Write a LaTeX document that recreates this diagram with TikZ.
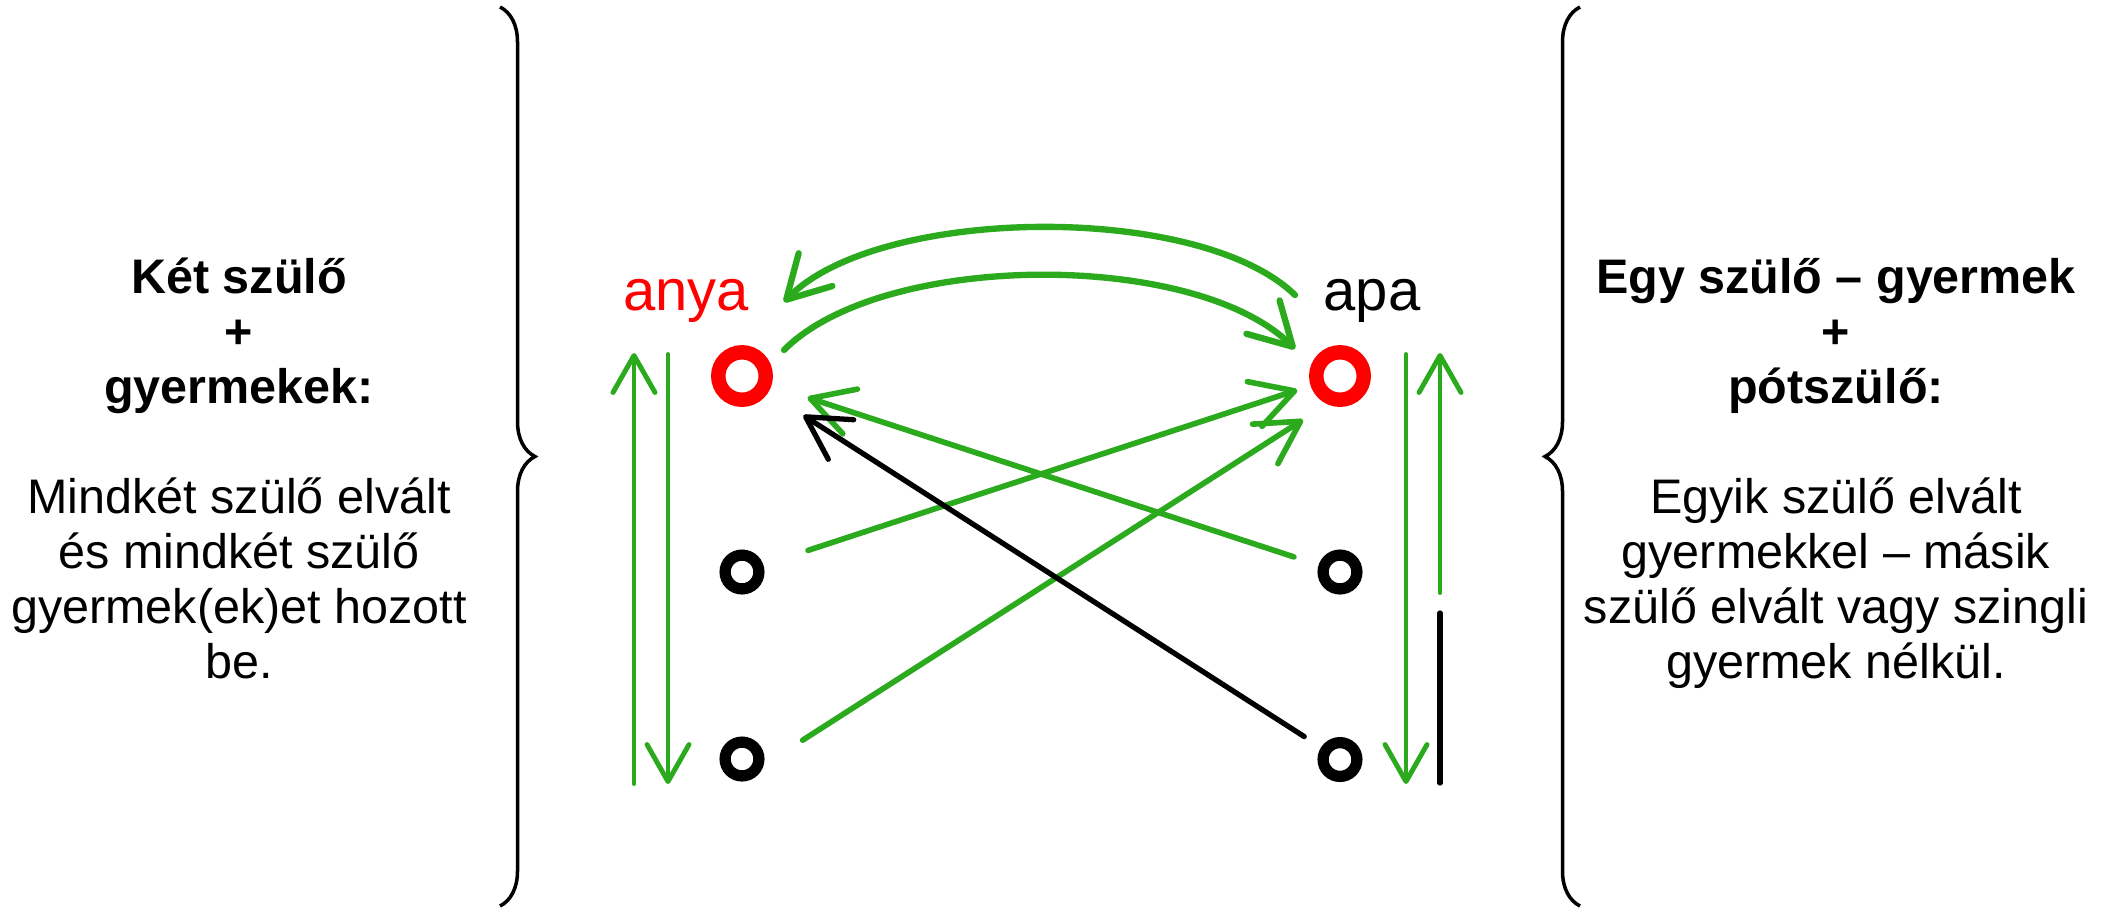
\documentclass[tikz,border=0pt]{standalone}
\usepackage{fontspec}
\setmainfont{Liberation Sans}
\usetikzlibrary{arrows.meta, positioning, decorations.pathreplacing}

\definecolor{zold}{RGB}{42,170,28}

\tikzset{
    szulo/.style={circle, draw=red, line width=4.1pt, minimum size=.475cm, inner sep=0pt},
    gyerek/.style={circle, draw=black, line width=3.2pt, minimum size=.338cm, inner sep=0pt},
    szoveg/.style={align=center, inner sep=0pt, font=\fontsize{13.8}{15.65}\selectfont},
    cim/.style={szoveg, font=\fontsize{13.8}{15.65}\selectfont\bfseries},
    nev/.style={inner sep=0pt, font=\fontsize{16.5}{19}\selectfont},
    kapocs/.style={draw=zold, line width=1.6pt, line cap=round,
        -{Straight Barb[length=.42cm, width=.47cm, round]}},
    fekete/.style={kapocs, draw=black, line width=1.5pt},
    ives/.style={kapocs, line width=1.8pt},
    fuggo/.style={draw=zold, line width=1.1pt, line cap=round,
        -{Straight Barb[length=.37cm, width=.42cm, round, line width=1.4pt]}},
    zarojel/.style={decorate, decoration={brace, amplitude=.35cm}, line width=1pt}
}

\begin{document}
\begin{tikzpicture}
\useasboundingbox (0,0) rectangle (21.19,-9.08);

% korok
\node[szulo] (a0) at (7.42,-3.76) {};
\node[gyerek] (a1) at (7.42,-5.72) {};
\node[gyerek] (a2) at (7.42,-7.59) {};
\node[szulo] (p0) at (13.40,-3.76) {};
\node[gyerek] (p1) at (13.40,-5.72) {};
\node[gyerek] (p2) at (13.40,-7.595) {};

\node[nev, red, anchor=base] (la) at (6.86,-3.10) {anya};
\node[nev, anchor=base] (lp) at (13.72,-3.10) {apa};

% szovegek
\node[cim, anchor=base] (bc) at (2.39,-4.03) {Két szülő\\+\\gyermekek:};
\node[szoveg, anchor=base] (bs) at (2.39,-6.78) {Mindkét szülő elvált\\és mindkét szülő\\gyermek(ek)et hozott\\be.};
\node[cim, anchor=base] (jc) at (18.36,-4.03) {Egy szülő – gyermek\\+\\pótszülő:};
\node[szoveg, anchor=base] (js) at (18.36,-6.78) {Egyik szülő elvált\\gyermekkel – másik\\szülő elvált vagy szingli\\gyermek nélkül.};

% zarojelek
\draw[zarojel] (5.00,-0.07) -- (5.00,-9.06);
\draw[zarojel] (15.80,-9.06) -- (15.80,-0.07);

% ivek
\draw[ives] ([shift={(-.45,.81)}]p0.center) to[bend right=45, looseness=.67] ([shift={(.42,.74)}]a0.center);
\draw[ives] ([shift={(.42,.26)}]a0.center) to[bend left=45, looseness=.7] ([shift={(-.45,.27)}]p0.center);

% atlos nyilak
\draw[kapocs, shorten <=.47cm, shorten >=.14cm] (a1) -- (p0);
\draw[kapocs, shorten <=.72cm, shorten >=.44cm] ([yshift=-.2cm]a2.center) -- ([yshift=-.2cm]p0.center);
\draw[kapocs, shorten <=.26cm, shorten >=.38cm] (p1) -- (a0);
\draw[fekete, shorten <=.2cm, shorten >=.42cm] (p2) -- (a0);

% fuggoleges nyilak
\draw[fuggo] ([shift={(-1.08,-.25)}]a2.center) -- ([shift={(-1.08,.23)}]a0.center);
\draw[fuggo] ([shift={(-.74,.22)}]a0.center) -- ([shift={(-.74,-.25)}]a2.center);
\draw[fuggo] ([shift={(.66,.22)}]p0.center) -- ([shift={(.66,-.245)}]p2.center);
\draw[fuggo] ([shift={(1.00,-.21)}]p1.center) -- ([shift={(1.00,.23)}]p0.center);
\draw[black, line width=1.5pt, line cap=round] ([shift={(1.00,-.41)}]p1.center) -- ([shift={(1.00,-.235)}]p2.center);
\end{tikzpicture}
\end{document}
